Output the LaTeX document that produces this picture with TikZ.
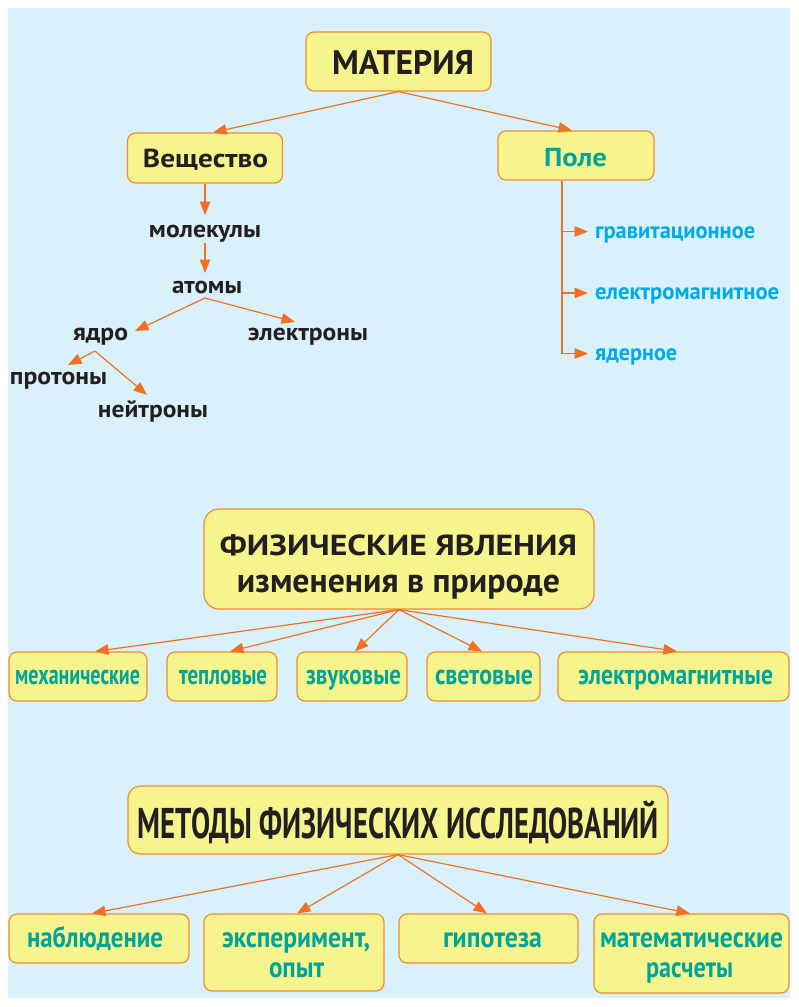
\documentclass[tikz,border=0pt]{standalone}
\usepackage{fontspec}
\setmainfont{PT Sans}
\usetikzlibrary{arrows.meta}
\definecolor{bgblue}{RGB}{217,241,250}
\definecolor{boxfill}{RGB}{246,244,140}
\definecolor{boxline}{RGB}{240,140,50}
\definecolor{arrowc}{RGB}{241,112,34}
\definecolor{tealc}{RGB}{0,164,154}
\definecolor{cyanc}{RGB}{0,170,232}
\definecolor{inkc}{RGB}{35,31,32}
\newcommand\fw[2]{\resizebox{#1pt}{\height}{#2}}
\newcommand\fs[1]{\fontsize{#1}{#1}\selectfont}
\begin{document}
\begin{tikzpicture}[x=1pt,y=-1pt,
  box/.style={draw=boxline, line width=1.2pt, fill=boxfill, rounded corners=8pt, inner sep=0pt},
  txt/.style={anchor=base, inner sep=0pt, font=\bfseries, text=inkc},
  tealtxt/.style={txt, text=tealc},
  cyantxt/.style={anchor=base west, inner sep=0pt, font=\bfseries, text=cyanc},
  arr/.style={draw=arrowc, line width=1.2pt, -{Triangle[length=13.5pt,width=10.5pt]}}]
\useasboundingbox (0,0) rectangle (799,1007);
\fill[white] (0,0) rectangle (799,1007);
\fill[bgblue] (8,8) rectangle (790,998);

% --- top: МАТЕРИЯ
\node[box, minimum width=185pt, minimum height=59pt] (mat) at (398.5,61.5) {};
\node[txt] (matt) at (403,74) {\fs{34}\fw{142}{МАТЕРИЯ}};
\node[box, minimum width=155pt, minimum height=50pt] (vesh) at (205,158) {};
\node[txt] (vesht) at (205.5,167) {\fs{26}\fw{125}{Вещество}};
\node[box, minimum width=156pt, minimum height=49pt] (pole) at (576,155.5) {};
\node[tealtxt] (polet) at (575.5,166) {\fs{26}\fw{63}{Поле}};

\node[txt] (molek) at (205,237) {\fs{24}\fw{112}{молекулы}};
\node[txt] (atomy) at (207,293) {\fs{24}\fw{70}{атомы}};
\node[txt] (yadro) at (100.5,340) {\fs{24}\fw{55}{ядро}};
\node[txt] (elek) at (308,340) {\fs{24}\fw{120}{электроны}};
\node[txt] (proton) at (58.5,384) {\fs{24}\fw{97}{протоны}};
\node[txt] (neut) at (153,417) {\fs{24}\fw{110}{нейтроны}};

\node[cyantxt] (grav) at (595,238) {\fs{23}\fw{160}{гравитационное}};
\node[cyantxt] (emag) at (595,299) {\fs{23}\fw{184}{електромагнитное}};
\node[cyantxt] (yader) at (595,360) {\fs{23}\fw{82}{ядерное}};

\draw[arr] (mat.south) -- ([xshift=8pt]vesh.north);
\draw[arr] (mat.south) -- ([xshift=-4pt]pole.north);
\draw[arr] (vesh.south) -- ([yshift=22pt]molek.base);
\draw[arr] ([yshift=-6pt]molek.base) -- ([xshift=-2pt,yshift=20pt]atomy.base);
\draw[arr] ([xshift=-2pt,yshift=-5pt]atomy.base) -- ([xshift=34.5pt,yshift=9pt]yadro.base);
\draw[arr] ([xshift=-2pt,yshift=-5pt]atomy.base) -- ([xshift=-13pt,yshift=18pt]elek.base);
\draw[arr] ([xshift=-5.5pt,yshift=-11pt]yadro.base) -- ([xshift=9.5pt,yshift=19pt]proton.base);
\draw[arr] ([xshift=-5.5pt,yshift=-11pt]yadro.base) -- ([xshift=-6pt,yshift=22pt]neut.base);

\draw[arr] ([xshift=-14pt]pole.south) |- ([xshift=-7pt,yshift=6.5pt]grav.base west);
\draw[arr] ([xshift=-14pt]pole.south) |- ([xshift=-7pt,yshift=6pt]emag.base west);
\draw[arr] ([xshift=-14pt]pole.south) |- ([xshift=-7pt,yshift=6.5pt]yader.base west);

% --- middle: ФИЗИЧЕСКИЕ ЯВЛЕНИЯ
\node[box, rounded corners=15pt, minimum width=390pt, minimum height=100pt] (fiz) at (399,559) {};
\node[txt] (fiz1) at (398.5,555) {\fs{29}\fw{357}{ФИЗИЧЕСКИЕ ЯВЛЕНИЯ}};
\node[txt] (fiz2) at (398.5,592) {\fs{34}\fw{323}{изменения в природе}};

\node[box, minimum width=138pt, minimum height=49pt] (mech) at (78,676.5) {};
\node[box, minimum width=110pt, minimum height=49pt] (tep) at (222,676.5) {};
\node[box, minimum width=110pt, minimum height=49pt] (zvuk) at (352,676.5) {};
\node[box, minimum width=113pt, minimum height=49pt] (svet) at (483.5,676.5) {};
\node[box, minimum width=231pt, minimum height=49pt] (elm) at (673.5,676.5) {};
\node[tealtxt] (mecht) at (77.5,684) {\fs{28}\fw{125}{механические}};
\node[tealtxt] (tept) at (223,684) {\fs{28}\fw{88}{тепловые}};
\node[tealtxt] (zvukt) at (353.5,684) {\fs{28}\fw{95}{звуковые}};
\node[tealtxt] (svett) at (484,684) {\fs{28}\fw{98}{световые}};
\node[tealtxt] (elmt) at (675.5,684) {\fs{28}\fw{195}{электромагнитные}};

\draw[arr] (fiz.south) -- ([xshift=17pt]mech.north);
\draw[arr] (fiz.south) -- ([xshift=8pt]tep.north);
\draw[arr] (fiz.south) -- ([xshift=3pt]zvuk.north);
\draw[arr] (fiz.south) -- ([xshift=-1.5pt]svet.north);
\draw[arr] (fiz.south) -- ([xshift=3.5pt]elm.north);

% --- bottom: МЕТОДЫ
\node[box, rounded corners=12pt, minimum width=540pt, minimum height=68pt] (met) at (398,820) {};
\node[txt] (mett) at (398.5,838) {\fs{43}\fw{521}{МЕТОДЫ ФИЗИЧЕСКИХ ИССЛЕДОВАНИЙ}};

\node[box, minimum width=180pt, minimum height=49pt] (nab) at (99,938.5) {};
\node[box, minimum width=180pt, minimum height=77pt] (eks) at (294,952.5) {};
\node[box, minimum width=179pt, minimum height=49pt] (gip) at (488.5,938.5) {};
\node[box, minimum width=195pt, minimum height=79pt] (matr) at (691.5,953.5) {};
\node[tealtxt] (nabt) at (95,947) {\fs{29}\fw{136}{наблюдение}};
\node[tealtxt] (ekst1) at (296,947) {\fs{29}\fw{148}{эксперимент,}};
\node[tealtxt] (ekst2) at (296.5,977) {\fs{29}\fw{55}{опыт}};
\node[tealtxt] (gipt) at (492.5,947) {\fs{29}\fw{99}{гипотеза}};
\node[tealtxt] (matrt1) at (691.5,947) {\fs{29}\fw{183}{математические}};
\node[tealtxt] (matrt2) at (689.5,977) {\fs{29}\fw{87}{расчеты}};

\draw[arr] (met.south) -- ([xshift=-7pt]nab.north);
\draw[arr] (met.south) -- ([xshift=3pt]eks.north);
\draw[arr] (met.south) -- ([xshift=-1.5pt]gip.north);
\draw[arr] (met.south) -- ([xshift=-1.5pt]matr.north);
\end{tikzpicture}
\end{document}
